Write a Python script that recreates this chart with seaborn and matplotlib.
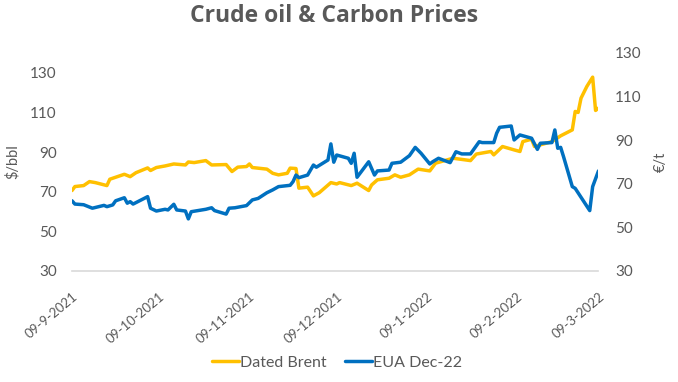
import matplotlib.pyplot as plt
import pandas as pd
import seaborn as sns

# Dated Brent ($/bbl)
brent_dates = [
    "2021-09-09", "2021-09-10", "2021-09-13", "2021-09-15", "2021-09-17", "2021-09-21",
    "2021-09-22", "2021-09-27", "2021-09-29", "2021-10-01", "2021-10-05", "2021-10-06",
    "2021-10-08", "2021-10-11", "2021-10-14", "2021-10-18", "2021-10-19", "2021-10-21",
    "2021-10-25", "2021-10-27", "2021-11-01", "2021-11-03", "2021-11-05", "2021-11-08",
    "2021-11-09", "2021-11-10", "2021-11-15", "2021-11-17", "2021-11-19", "2021-11-22",
    "2021-11-23", "2021-11-25", "2021-11-26", "2021-11-29", "2021-12-01", "2021-12-03",
    "2021-12-07", "2021-12-09", "2021-12-10", "2021-12-14", "2021-12-16", "2021-12-20",
    "2021-12-21", "2021-12-23", "2021-12-27", "2021-12-29", "2021-12-31", "2022-01-03",
    "2022-01-06", "2022-01-10", "2022-01-12", "2022-01-18", "2022-01-24", "2022-01-26",
    "2022-01-31", "2022-02-01", "2022-02-04", "2022-02-08", "2022-02-10", "2022-02-11",
    "2022-02-14", "2022-02-15", "2022-02-21", "2022-02-24", "2022-02-28", "2022-03-01",
    "2022-03-02", "2022-03-03", "2022-03-05", "2022-03-07", "2022-03-08", "2022-03-09",
]
brent_values = [
    70.6, 72.6, 73.1, 75.1, 74.6, 73.1,
    76.3, 78.8, 77.6, 79.6, 82.0, 80.7,
    82.2, 83.0, 84.0, 83.5, 85.0, 84.7,
    85.7, 83.5, 83.7, 80.2, 82.4, 82.7,
    84.0, 82.2, 81.4, 79.3, 78.5, 79.3,
    81.9, 81.7, 71.8, 72.3, 67.9, 69.5,
    74.6, 73.9, 74.6, 73.1, 74.3, 70.6,
    73.4, 76.0, 76.8, 78.5, 77.3, 78.5,
    81.4, 80.5, 84.4, 86.9, 85.7, 89.0,
    90.3, 88.6, 92.8, 91.1, 90.3, 95.3,
    96.5, 92.8, 95.3, 98.2, 101.2, 110.5,
    110.0, 117.2, 123.1, 127.8, 111.0, 112.2,
]

# EUA Dec-22 (EUR/t)
eua_dates = [
    "2021-09-09", "2021-09-10", "2021-09-13", "2021-09-16", "2021-09-20", "2021-09-21",
    "2021-09-23", "2021-09-24", "2021-09-27", "2021-09-28", "2021-09-29", "2021-09-30",
    "2021-10-05", "2021-10-06", "2021-10-08", "2021-10-11", "2021-10-12", "2021-10-14",
    "2021-10-15", "2021-10-18", "2021-10-19", "2021-10-20", "2021-10-25", "2021-10-27",
    "2021-10-28", "2021-11-01", "2021-11-02", "2021-11-04", "2021-11-08", "2021-11-10",
    "2021-11-12", "2021-11-15", "2021-11-17", "2021-11-19", "2021-11-23", "2021-11-24",
    "2021-11-25", "2021-11-26", "2021-11-29", "2021-12-01", "2021-12-02", "2021-12-06",
    "2021-12-07", "2021-12-08", "2021-12-09", "2021-12-13", "2021-12-14", "2021-12-15",
    "2021-12-16", "2021-12-20", "2021-12-22", "2021-12-23", "2021-12-27", "2021-12-28",
    "2021-12-31", "2022-01-03", "2022-01-05", "2022-01-07", "2022-01-10", "2022-01-11",
    "2022-01-13", "2022-01-17", "2022-01-19", "2022-01-21", "2022-01-24", "2022-01-27",
    "2022-01-28", "2022-02-01", "2022-02-02", "2022-02-03", "2022-02-07", "2022-02-08",
    "2022-02-10", "2022-02-14", "2022-02-16", "2022-02-17", "2022-02-21", "2022-02-22",
    "2022-02-23", "2022-02-24", "2022-02-25", "2022-02-28", "2022-03-01", "2022-03-06",
    "2022-03-07", "2022-03-09",
]
eua_values = [
    62.2, 60.7, 60.4, 58.8, 60.1, 59.5,
    60.3, 62.2, 63.6, 61.1, 61.8, 60.7,
    64.1, 58.8, 57.5, 58.3, 58.0, 60.6,
    58.0, 57.5, 53.9, 57.2, 58.3, 59.0,
    57.7, 56.1, 58.8, 59.0, 60.0, 62.6,
    63.3, 65.9, 67.2, 68.7, 69.3, 71.0,
    74.0, 72.8, 74.0, 78.6, 77.6, 80.9,
    88.3, 79.9, 83.2, 81.7, 79.4, 84.0,
    73.0, 80.1, 74.0, 75.9, 76.3, 79.4,
    79.9, 82.9, 86.7, 84.0, 79.1, 80.1,
    81.7, 79.7, 84.7, 83.7, 83.7, 89.3,
    88.9, 88.9, 93.2, 95.9, 96.5, 90.1,
    92.4, 90.9, 85.8, 88.6, 88.9, 94.7,
    86.3, 86.7, 82.4, 68.7, 67.9, 57.7,
    68.7, 75.9,
]

tick_dates = ["2021-09-09", "2021-10-09", "2021-11-09", "2021-12-09",
              "2022-01-09", "2022-02-09", "2022-03-09"]
tick_labels = ["09-9-2021", "09-10-2021", "09-11-2021", "09-12-2021",
               "09-1-2022", "09-2-2022", "09-3-2022"]
left_ticks = [30, 50, 70, 90, 110, 130]
right_ticks = [30, 50, 70, 90, 110, 130]

GOLD = "#FFC000"
BLUE = "#0070C0"
GREY = "#595959"

sns.set_theme(style="white")
plt.rcParams["font.family"] = ["Lato", "DejaVu Sans"]

brent = pd.DataFrame({"date": pd.to_datetime(brent_dates), "value": brent_values})
eua = pd.DataFrame({"date": pd.to_datetime(eua_dates), "value": eua_values})

fig = plt.figure(figsize=(6.78, 3.82), dpi=100)
ax = fig.add_axes([0.1062, 0.2906, 0.7765, 0.5707])
ax2 = ax.twinx()

sns.lineplot(data=brent, x="date", y="value", ax=ax, color=GOLD, lw=2.5,
             label="Dated Brent", legend=False)
sns.lineplot(data=eua, x="date", y="value", ax=ax2, color=BLUE, lw=2.5,
             label="EUA Dec-22", legend=False)

ax.set_xlim(pd.Timestamp(tick_dates[0]), pd.Timestamp(tick_dates[-1]))
ax.set_ylim(30, 140)
ax2.set_ylim(30, 130)
ax.set_yticks(left_ticks)
ax2.set_yticks(right_ticks)
ax.set_xticks(pd.to_datetime(tick_dates))
ax.set_xticklabels(tick_labels, rotation=40, ha="right", rotation_mode="anchor")

for a in (ax, ax2):
    for side in ("top", "left", "right", "bottom"):
        a.spines[side].set_visible(False)
    a.tick_params(length=0, labelcolor=GREY)
    a.grid(False)
ax.spines["bottom"].set_visible(True)
ax.spines["bottom"].set_color("#D9D9D9")
ax.spines["bottom"].set_linewidth(1.2)
ax.tick_params(axis="y", pad=11, labelsize=11)
ax2.tick_params(axis="y", pad=12, labelsize=11)
ax.tick_params(axis="x", pad=14, labelsize=9.5)

ax.set_xlabel("")
ax.set_ylabel("$/bbl", color=GREY, fontsize=10.5)
ax2.set_ylabel("€/t", color=GREY, fontsize=10.5)
ax.yaxis.set_label_coords(-0.10, 0.5)
ax2.yaxis.set_label_coords(1.105, 0.5)

fig.suptitle("Crude oil & Carbon Prices", x=0.493, y=0.99, fontsize=16.5,
             fontweight="bold", color=GREY, family=["Open Sans", "DejaVu Sans"])

handles = ax.get_lines()[:1] + ax2.get_lines()[:1]
fig.legend(handles, ["Dated Brent", "EUA Dec-22"], loc="center", ncol=2,
           bbox_to_anchor=(0.497, 0.051), frameon=False, fontsize=11.5,
           handlelength=1.7, handletextpad=0.05, columnspacing=1.2,
           labelcolor=GREY)

fig.savefig("out.png", dpi=100)
